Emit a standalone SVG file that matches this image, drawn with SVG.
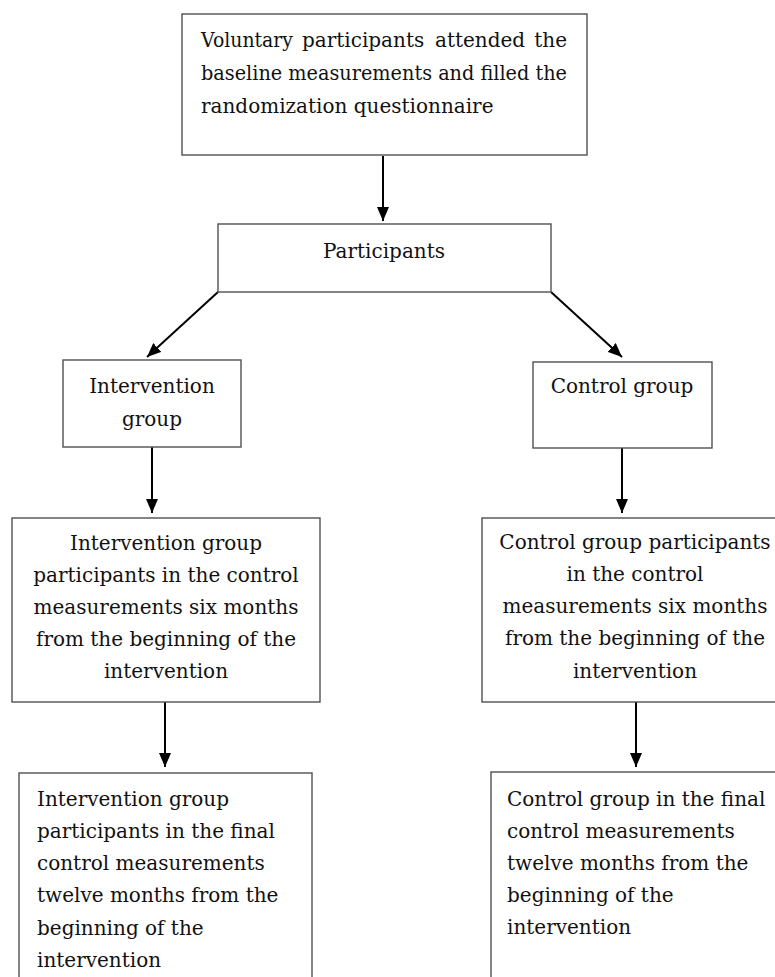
<svg xmlns="http://www.w3.org/2000/svg" width="775" height="977" viewBox="0 0 775 977">
<style>
.box{fill:#fff;stroke:#505050;stroke-width:1.4}
.t{font-family:"DejaVu Serif","Liberation Serif",serif;font-size:20px;fill:#111}
.c{text-anchor:middle}
.arr{stroke:#000;stroke-width:2;fill:none;marker-end:url(#ah)}
</style>
<defs>
<marker id="ah" viewBox="0 0 14 12" refX="14" refY="6" markerWidth="14" markerHeight="12" markerUnits="userSpaceOnUse" orient="auto">
<path d="M0,0 L14,6 L0,12 Z" fill="#000"/>
</marker>
</defs>
<rect width="775" height="977" fill="#fff"/>
<g id="connectors">
<line class="arr" x1="383" y1="156" x2="383" y2="221"/>
<line class="arr" x1="218" y1="292" x2="147" y2="357"/>
<line class="arr" x1="551" y1="292" x2="622" y2="357"/>
<line class="arr" x1="152" y1="447" x2="152" y2="513"/>
<line class="arr" x1="622" y1="448" x2="622" y2="513"/>
<line class="arr" x1="165" y1="702" x2="165" y2="767"/>
<line class="arr" x1="636" y1="702" x2="636" y2="767"/>
</g>
<g id="n1">
<rect class="box" x="182" y="14" width="405" height="141"/>
<text class="t" y="47"><tspan x="201" textLength="92" lengthAdjust="spacingAndGlyphs">Voluntary</tspan><tspan x="302">participants</tspan><tspan x="435">attended</tspan><tspan x="567" text-anchor="end">the</tspan></text>
<text class="t" x="201" y="80" textLength="366" lengthAdjust="spacingAndGlyphs">baseline measurements and filled the</text>
<text class="t" x="201" y="113">randomization questionnaire</text>
</g>
<g id="n2">
<rect class="box" x="218" y="224" width="333" height="68"/>
<text class="t c" x="384" y="258">Participants</text>
</g>
<g id="n3">
<rect class="box" x="63" y="360" width="178" height="87"/>
<text class="t c" x="152" y="393">Intervention</text>
<text class="t c" x="152" y="426">group</text>
</g>
<g id="n4">
<rect class="box" x="533" y="362" width="179" height="86"/>
<text class="t c" x="622" y="393">Control group</text>
</g>
<g id="n5">
<rect class="box" x="12" y="518" width="308" height="184"/>
<text class="t c" x="166" y="550">Intervention group</text>
<text class="t c" x="166" y="582">participants in the control</text>
<text class="t c" x="166" y="614">measurements six months</text>
<text class="t c" x="166" y="646">from the beginning of the</text>
<text class="t c" x="166" y="678">intervention</text>
</g>
<g id="n6">
<rect class="box" x="482" y="518" width="330" height="184"/>
<text class="t c" x="635" y="549">Control group participants</text>
<text class="t c" x="635" y="581">in the control</text>
<text class="t c" x="635" y="613">measurements six months</text>
<text class="t c" x="635" y="645">from the beginning of the</text>
<text class="t c" x="635" y="678">intervention</text>
</g>
<g id="n7">
<rect class="box" x="19" y="773" width="293" height="230"/>
<text class="t" x="37" y="806">Intervention group</text>
<text class="t" x="37" y="838">participants in the final</text>
<text class="t" x="37" y="870">control measurements</text>
<text class="t" x="37" y="902">twelve months from the</text>
<text class="t" x="37" y="935">beginning of the</text>
<text class="t" x="37" y="967">intervention</text>
</g>
<g id="n8">
<rect class="box" x="491" y="772" width="320" height="230"/>
<text class="t" x="507" y="806">Control group in the final</text>
<text class="t" x="507" y="838">control measurements</text>
<text class="t" x="507" y="870">twelve months from the</text>
<text class="t" x="507" y="902">beginning of the</text>
<text class="t" x="507" y="934">intervention</text>
</g>
</svg>
